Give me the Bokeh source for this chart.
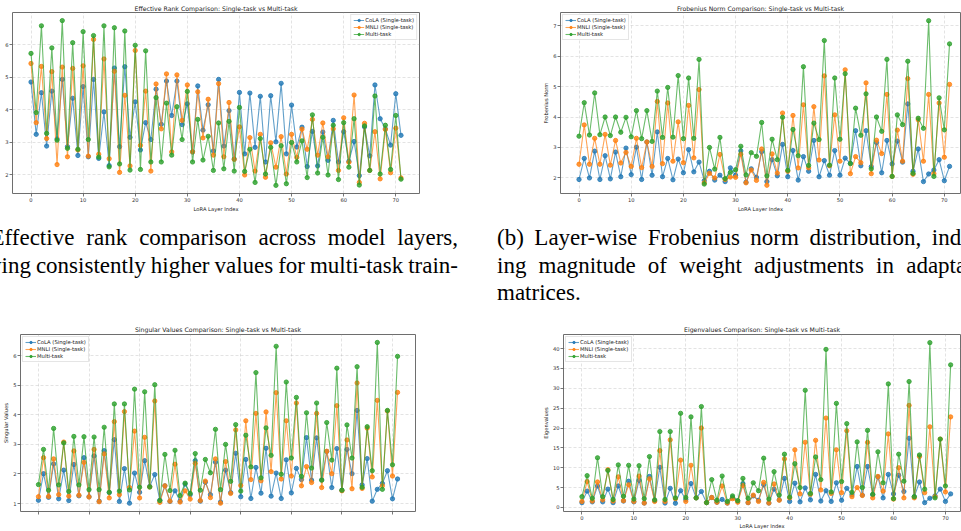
from bokeh.plotting import figure
from bokeh.layouts import column, row
from bokeh.models import Div, Range1d, FixedTicker, ColumnDataSource, CustomLabelingPolicy
from bokeh.embed import file_html
from bokeh.resources import INLINE

# ---------------- data ----------------
layer_index = list(range(72))
x_ticks = [0, 10, 20, 30, 40, 50, 60, 70]
series_names = ["CoLA (Single-task)", "MNLI (Single-task)", "Multi-task"]

cola_er = [4.85, 3.24, 4.52, 2.88, 4.57, 3.10, 4.93, 2.86, 4.35, 2.59,
           4.71, 2.55, 4.93, 2.50, 3.93, 2.28, 5.28, 2.86, 5.32, 3.15,
           4.24, 2.76, 3.60, 3.08, 4.63, 3.55, 4.88, 3.82, 4.88, 3.54,
           4.18, 2.70, 4.73, 3.37, 4.15, 2.73, 4.93, 2.88, 3.97, 2.48,
           4.53, 2.64, 4.51, 2.84, 4.41, 2.39, 4.43, 3.01, 4.81, 2.64,
           4.14, 2.85, 3.46, 2.25, 3.33, 2.27, 3.31, 2.44, 3.67, 2.39,
           3.32, 2.41, 3.02, 1.97, 3.47, 2.58, 4.76, 3.72, 3.41, 2.91,
           4.49, 3.21]
mnli_er = [5.42, 3.60, 5.33, 3.11, 5.17, 2.31, 5.31, 2.55, 5.27, 2.76,
           5.35, 2.57, 6.16, 2.63, 5.56, 2.49, 5.18, 2.07, 4.44, 2.27,
           5.82, 2.90, 4.57, 2.11, 4.79, 3.41, 5.10, 2.70, 5.07, 3.67,
           4.76, 2.70, 4.55, 3.13, 4.32, 2.60, 4.80, 2.55, 4.22, 2.47,
           3.47, 1.99, 3.14, 2.11, 3.24, 1.92, 2.98, 2.23, 3.17, 2.02,
           3.24, 2.53, 3.40, 2.78, 3.70, 2.60, 3.59, 2.55, 3.41, 2.13,
           3.75, 2.38, 4.45, 1.76, 3.58, 2.13, 3.32, 1.87, 3.39, 2.06,
           3.43, 1.90]
multi_er = [5.73, 3.91, 6.58, 3.27, 5.90, 3.06, 6.74, 2.81, 6.06, 2.78,
            6.40, 3.08, 6.28, 2.54, 6.58, 2.24, 6.52, 2.33, 6.42, 2.14,
            5.98, 2.16, 5.81, 2.39, 4.37, 2.39, 4.20, 2.60, 4.09, 3.08,
            4.56, 2.39, 3.70, 2.45, 3.18, 2.13, 3.59, 2.18, 3.64, 2.11,
            4.07, 2.10, 2.78, 1.76, 3.11, 2.02, 2.84, 1.67, 2.89, 1.72,
            2.99, 2.39, 3.04, 1.91, 3.84, 2.05, 3.15, 1.99, 3.52, 1.85,
            3.60, 2.23, 3.72, 1.68, 3.50, 2.13, 4.42, 2.02, 3.52, 2.16,
            3.82, 1.86]

cola_fn = [1.95, 2.64, 2.00, 2.88, 1.95, 2.73, 1.97, 2.85, 2.04, 2.98,
           2.11, 3.01, 1.95, 3.18, 2.09, 3.51, 2.04, 2.64, 1.94, 2.62,
           2.17, 2.93, 2.20, 2.52, 1.91, 2.22, 1.93, 2.09, 1.88, 2.33,
           2.09, 2.89, 1.86, 2.30, 2.02, 2.86, 1.88, 2.60, 2.07, 3.10,
           2.04, 2.90, 1.93, 2.70, 2.22, 3.23, 2.04, 2.57, 2.09, 2.90,
           2.09, 2.65, 2.48, 3.55, 2.40, 3.55, 2.37, 3.16, 2.17, 3.23,
           2.46, 3.21, 2.52, 4.43, 2.22, 2.95, 1.88, 2.13, 2.26, 2.60,
           1.91, 2.38]
mnli_fn = [2.45, 3.74, 2.45, 3.30, 2.45, 3.43, 2.42, 3.23, 2.49, 2.84,
           2.38, 3.30, 2.34, 3.18, 2.38, 4.51, 2.47, 4.46, 2.55, 3.84,
           2.50, 4.38, 2.66, 4.90, 1.84, 2.15, 2.00, 2.77, 1.95, 2.03,
           2.02, 2.78, 1.84, 2.26, 1.92, 2.95, 1.76, 2.79, 2.16, 4.13,
           2.22, 4.05, 2.33, 4.40, 2.33, 4.34, 2.59, 5.35, 2.40, 4.07,
           2.55, 5.55, 2.14, 2.70, 2.50, 5.12, 2.14, 3.24, 2.80, 4.74,
           2.05, 3.57, 2.55, 5.26, 2.12, 3.91, 2.55, 4.74, 2.14, 4.46,
           2.68, 5.07]
multi_fn = [3.37, 4.47, 3.41, 4.79, 3.42, 4.00, 3.39, 4.00, 3.50, 3.99,
            3.35, 4.21, 3.29, 4.21, 3.20, 4.85, 3.33, 4.97, 3.34, 5.36,
            3.29, 5.28, 3.30, 5.89, 1.80, 3.00, 2.29, 3.33, 1.98, 2.18,
            2.27, 3.04, 2.10, 2.83, 2.71, 3.82, 2.07, 3.27, 2.60, 3.99,
            2.25, 3.59, 2.73, 5.65, 2.41, 3.80, 3.26, 6.51, 2.42, 5.28,
            3.27, 5.42, 2.47, 4.29, 3.40, 4.76, 2.30, 4.00, 3.53, 5.89,
            2.05, 4.07, 3.75, 5.83, 2.15, 3.96, 3.63, 7.16, 2.05, 4.63,
            3.58, 6.40]

cola_sv = [1.11, 2.01, 1.21, 2.34, 1.16, 2.13, 1.10, 2.32, 1.26, 2.55,
           1.23, 2.61, 1.08, 2.79, 1.37, 3.16, 1.07, 2.18, 1.01, 2.03,
           1.38, 2.45, 1.58, 1.98, 1.11, 1.60, 1.07, 1.43, 1.08, 1.66,
           1.30, 2.45, 1.08, 1.72, 1.30, 2.40, 1.05, 2.13, 1.37, 2.70,
           1.23, 2.49, 1.17, 2.22, 1.35, 2.87, 1.25, 2.03, 1.17, 2.48,
           1.36, 2.19, 1.81, 3.23, 1.79, 3.22, 1.80, 2.76, 1.54, 2.86,
           1.45, 2.83, 2.01, 4.15, 1.63, 2.52, 1.08, 1.48, 1.68, 2.11,
           1.16, 1.83]
mnli_sv = [1.23, 2.55, 1.24, 2.51, 1.30, 3.08, 1.25, 2.78, 1.28, 2.39,
           1.22, 2.83, 1.06, 2.68, 1.19, 3.77, 1.30, 4.11, 1.54, 3.45,
           1.19, 3.24, 1.56, 4.47, 1.04, 1.60, 1.08, 2.33, 1.05, 1.43,
           1.15, 2.36, 1.10, 1.76, 1.20, 2.51, 1.01, 2.42, 1.34, 3.49,
           1.61, 3.80, 1.81, 4.05, 1.77, 4.10, 2.08, 4.75, 1.83, 3.80,
           1.93, 4.40, 1.60, 2.25, 1.71, 4.05, 1.54, 2.77, 2.01, 4.31,
           1.43, 3.15, 1.50, 5.08, 1.51, 3.55, 1.90, 4.49, 1.60, 4.13,
           1.93, 4.76]
multi_sv = [1.64, 2.83, 1.45, 3.54, 1.63, 3.05, 1.41, 3.27, 1.63, 3.26,
            1.47, 3.25, 1.47, 3.58, 1.38, 4.37, 1.42, 4.37, 1.46, 4.87,
            1.55, 4.78, 1.56, 5.02, 1.10, 2.66, 1.44, 2.80, 1.27, 1.69,
            1.34, 2.69, 1.45, 2.49, 2.04, 3.51, 1.47, 3.00, 1.75, 3.67,
            1.42, 3.31, 2.24, 5.43, 1.87, 3.56, 2.63, 6.32, 1.99, 5.11,
            2.54, 4.59, 1.92, 4.07, 2.20, 4.40, 1.79, 3.74, 2.47, 5.58,
            1.45, 3.66, 2.54, 5.63, 1.55, 3.60, 2.11, 6.45, 1.48, 4.15,
            2.31, 5.98]

cola_ev = [1.2, 4.1, 1.4, 5.4, 1.4, 4.6, 1.2, 5.4, 1.6, 6.6,
           1.4, 6.8, 1.1, 7.8, 1.7, 10.1, 1.1, 4.8, 1.05, 4.2,
           2.0, 6.0, 2.4, 4.0, 1.2, 2.5, 1.3, 2.0, 1.1, 2.5,
           1.6, 6.0, 1.2, 2.9, 1.8, 5.7, 1.1, 4.6, 1.9, 7.3,
           1.5, 6.1, 1.4, 4.9, 1.9, 8.3, 1.6, 4.2, 1.5, 6.2,
           1.8, 4.8, 3.2, 10.3, 3.1, 10.3, 3.2, 7.7, 2.4, 8.3,
           3.4, 8.1, 4.0, 17.4, 2.7, 6.4, 1.2, 2.3, 2.9, 4.6,
           1.5, 3.4]
mnli_ev = [1.5, 6.5, 1.6, 6.4, 1.9, 9.5, 1.6, 7.7, 1.7, 5.7,
           1.5, 7.9, 1.1, 7.2, 1.5, 14.3, 1.5, 17.0, 2.2, 11.9,
           1.5, 10.6, 2.4, 20.0, 1.2, 2.5, 1.3, 5.4, 1.1, 2.2,
           1.3, 5.5, 1.2, 3.1, 1.5, 6.3, 1.1, 5.9, 1.8, 12.2,
           2.4, 14.5, 3.4, 16.4, 3.3, 16.9, 4.4, 22.5, 3.5, 14.5,
           3.7, 19.3, 2.7, 5.0, 3.0, 16.4, 2.4, 7.8, 4.1, 18.5,
           2.1, 10.0, 2.4, 25.7, 2.4, 12.8, 3.7, 20.3, 2.7, 17.2,
           3.9, 22.8]
multi_ev = [2.7, 8.0, 2.3, 12.5, 2.7, 9.3, 2.0, 10.7, 2.8, 10.6,
            2.1, 10.5, 2.2, 12.8, 1.9, 19.1, 2.0, 19.1, 2.4, 23.7,
            2.5, 22.8, 2.4, 25.4, 1.2, 7.0, 1.8, 7.9, 1.5, 2.9,
            1.7, 7.3, 2.3, 6.2, 4.2, 12.4, 2.1, 9.0, 3.1, 13.4,
            2.6, 11.0, 5.0, 29.5, 3.5, 12.7, 7.0, 39.8, 3.9, 26.2,
            6.5, 21.1, 3.8, 16.5, 5.0, 19.4, 3.3, 14.0, 6.2, 31.1,
            2.2, 13.4, 6.6, 31.7, 2.7, 13.2, 4.6, 41.5, 2.4, 17.2,
            5.4, 35.9]

er_ticks = [2, 3, 4, 5, 6]
fn_ticks = [2, 3, 4, 5, 6, 7]
sv_ticks = [1, 2, 3, 4, 5, 6]
ev_ticks = [0, 5, 10, 15, 20, 25, 30, 35, 40]

caption_a = ["(a) Effective rank comparison across model layers,",
             "showing consistently higher values for multi-task train-"]
caption_b = ["(b) Layer-wise Frobenius norm distribution, indicat-",
             "ing magnitude of weight adjustments in adaptation",
             "matrices."]

# ---------------- style ----------------
FONT = "DejaVu Sans"
COLORS = ["#1f77b4", "#ff7f0e", "#2ca02c"]


def panel(title, ylabel, ys, x_end, y_rng, yticks, width, height,
          left, top, fw, fh, legend_loc, xlabels=True, xlabel=None,
          title_standoff=2, xlabel_standoff=1):
    p = figure(width=width, height=height, output_backend="svg",
               toolbar_location=None,
               x_range=Range1d(-3.55, x_end), y_range=Range1d(*y_rng),
               min_border_left=left, min_border_top=top,
               min_border_right=width - left - fw,
               min_border_bottom=height - top - fh,
               title=title)
    p.background_fill_color = "white"
    p.border_fill_color = "white"
    p.outline_line_color = "#6e6e6e"
    p.outline_line_width = 1

    p.title.text_font = FONT
    p.title.text_font_size = "6.2px"
    p.title.text_font_style = "normal"
    p.title.text_color = "#222222"
    p.title.align = "center"
    p.title.standoff = title_standoff

    src = ColumnDataSource(dict(x=layer_index, a=ys[0], b=ys[1], c=ys[2]))
    for key, col, name in zip(["a", "b", "c"], COLORS, series_names):
        p.line("x", key, source=src, line_color=col, line_width=1.1,
               line_alpha=0.7, legend_label=name)
        p.scatter("x", key, source=src, size=4.3, fill_color=col,
                  line_color=col, fill_alpha=0.8, line_alpha=0.8,
                  legend_label=name)

    for ax in (p.xaxis[0], p.yaxis[0]):
        ax.axis_line_color = None
        ax.major_tick_line_color = "#555555"
        ax.major_tick_line_width = 0.8
        ax.major_tick_in = 0
        ax.minor_tick_line_color = None
        ax.major_label_text_font = FONT
        ax.major_label_text_font_size = "5.2px"
        ax.major_label_text_color = "#333333"
        ax.axis_label_text_font = FONT
        ax.axis_label_text_font_size = "5.2px"
        ax.axis_label_text_font_style = "normal"
        ax.axis_label_text_color = "#222222"

    p.xaxis.ticker = FixedTicker(ticks=x_ticks)
    p.yaxis.ticker = FixedTicker(ticks=yticks)
    p.xaxis.major_tick_out = 3
    p.yaxis.major_tick_out = 3
    p.xaxis.major_label_standoff = 1
    p.yaxis.major_label_standoff = 1
    if not xlabels:
        # tick labels lie below the visible page in the reference
        p.xaxis.major_label_text_font_size = "1px"
        p.xaxis.major_label_standoff = 0
        p.xaxis.major_label_policy = CustomLabelingPolicy(code="return new Set()")
    if xlabel:
        p.xaxis.axis_label = xlabel
        p.xaxis.axis_label_standoff = xlabel_standoff
    if ylabel:
        p.yaxis.axis_label = ylabel
        p.yaxis.axis_label_standoff = 1

    for g in (p.xgrid[0], p.ygrid[0]):
        g.grid_line_color = "#b0b0b0"
        g.grid_line_alpha = 0.5
        g.grid_line_dash = "3 2"
        g.grid_line_width = 0.7

    lg = p.legend[0]
    lg.location = legend_loc
    lg.label_text_font = FONT
    lg.label_text_font_size = "5.3px"
    lg.label_text_color = "#222222"
    lg.glyph_width = 11
    lg.glyph_height = 6
    lg.label_height = 6
    lg.label_standoff = 1
    lg.spacing = 1
    lg.padding = 2
    lg.margin = 2
    lg.border_line_color = "#cccccc"
    lg.border_line_width = 0.8
    lg.background_fill_alpha = 0.85
    return p


pA = panel("Effective Rank Comparison: Single-task vs Multi-task", None,
           [cola_er, mnli_er, multi_er], 74.55, (1.42, 6.99), er_ticks,
           480, 215, 12, 12, 407, 181, "top_right",
           xlabels=True, xlabel="LoRA Layer Index")
pB = panel("Frobenius Norm Comparison: Single-task vs Multi-task", "Frobenius Norm",
           [cola_fn, mnli_fn, multi_fn], 73.1, (1.49, 7.43), fn_ticks,
           481, 215, 80, 12, 400, 181, "top_left",
           xlabels=True, xlabel="LoRA Layer Index")
pC = panel("Singular Values Comparison: Single-task vs Multi-task", "Singular Values",
           [cola_sv, mnli_sv, multi_sv], 74.55, (0.73, 6.72), sv_ticks,
           480, 221, 17, 23, 398, 189, "top_left",
           xlabels=False, xlabel=None, title_standoff=4)
pD = panel("Eigenvalues Comparison: Single-task vs Multi-task", "Eigenvalues",
           [cola_ev, mnli_ev, multi_ev], 72.9, (-1.03, 43.55), ev_ticks,
           481, 221, 83, 24, 397, 183, "top_left",
           xlabels=True, xlabel="LoRA Layer Index", title_standoff=3,
           xlabel_standoff=0)

COL_W = 505


def caption_html(lines, left, box_w):
    base = ("font-family:'Liberation Serif',Tinos,'Times New Roman',serif;"
            "font-size:23px;line-height:27.5px;color:#000000;")
    parts = []
    for i, ln in enumerate(lines):
        last = (i == len(lines) - 1) and ln.endswith(".")
        align = "text-align:left;" if last else "text-align:justify;text-align-last:justify;"
        ws = "word-spacing:-2px;" if len(ln) > 52 else ""
        parts.append('<div style="%s%s">%s</div>' % (align, ws, ln))
    return ('<div style="position:relative;width:%dpx;height:95px;overflow:hidden;">'
            '<div style="position:absolute;left:%dpx;top:9px;width:%dpx;%s">%s</div>'
            '</div>') % (box_w, left, COL_W, base, "".join(parts))


dA = Div(text=caption_html(caption_a, -47, 480), width=480, height=95, margin=0)
dB = Div(text=caption_html(caption_b, 17, 481), width=481, height=95, margin=0)

layout = column(row(pA, pB, spacing=0), row(dA, dB, spacing=0),
                row(pC, pD, spacing=0), spacing=0)

open("out.html", "w").write(file_html(layout, INLINE))
